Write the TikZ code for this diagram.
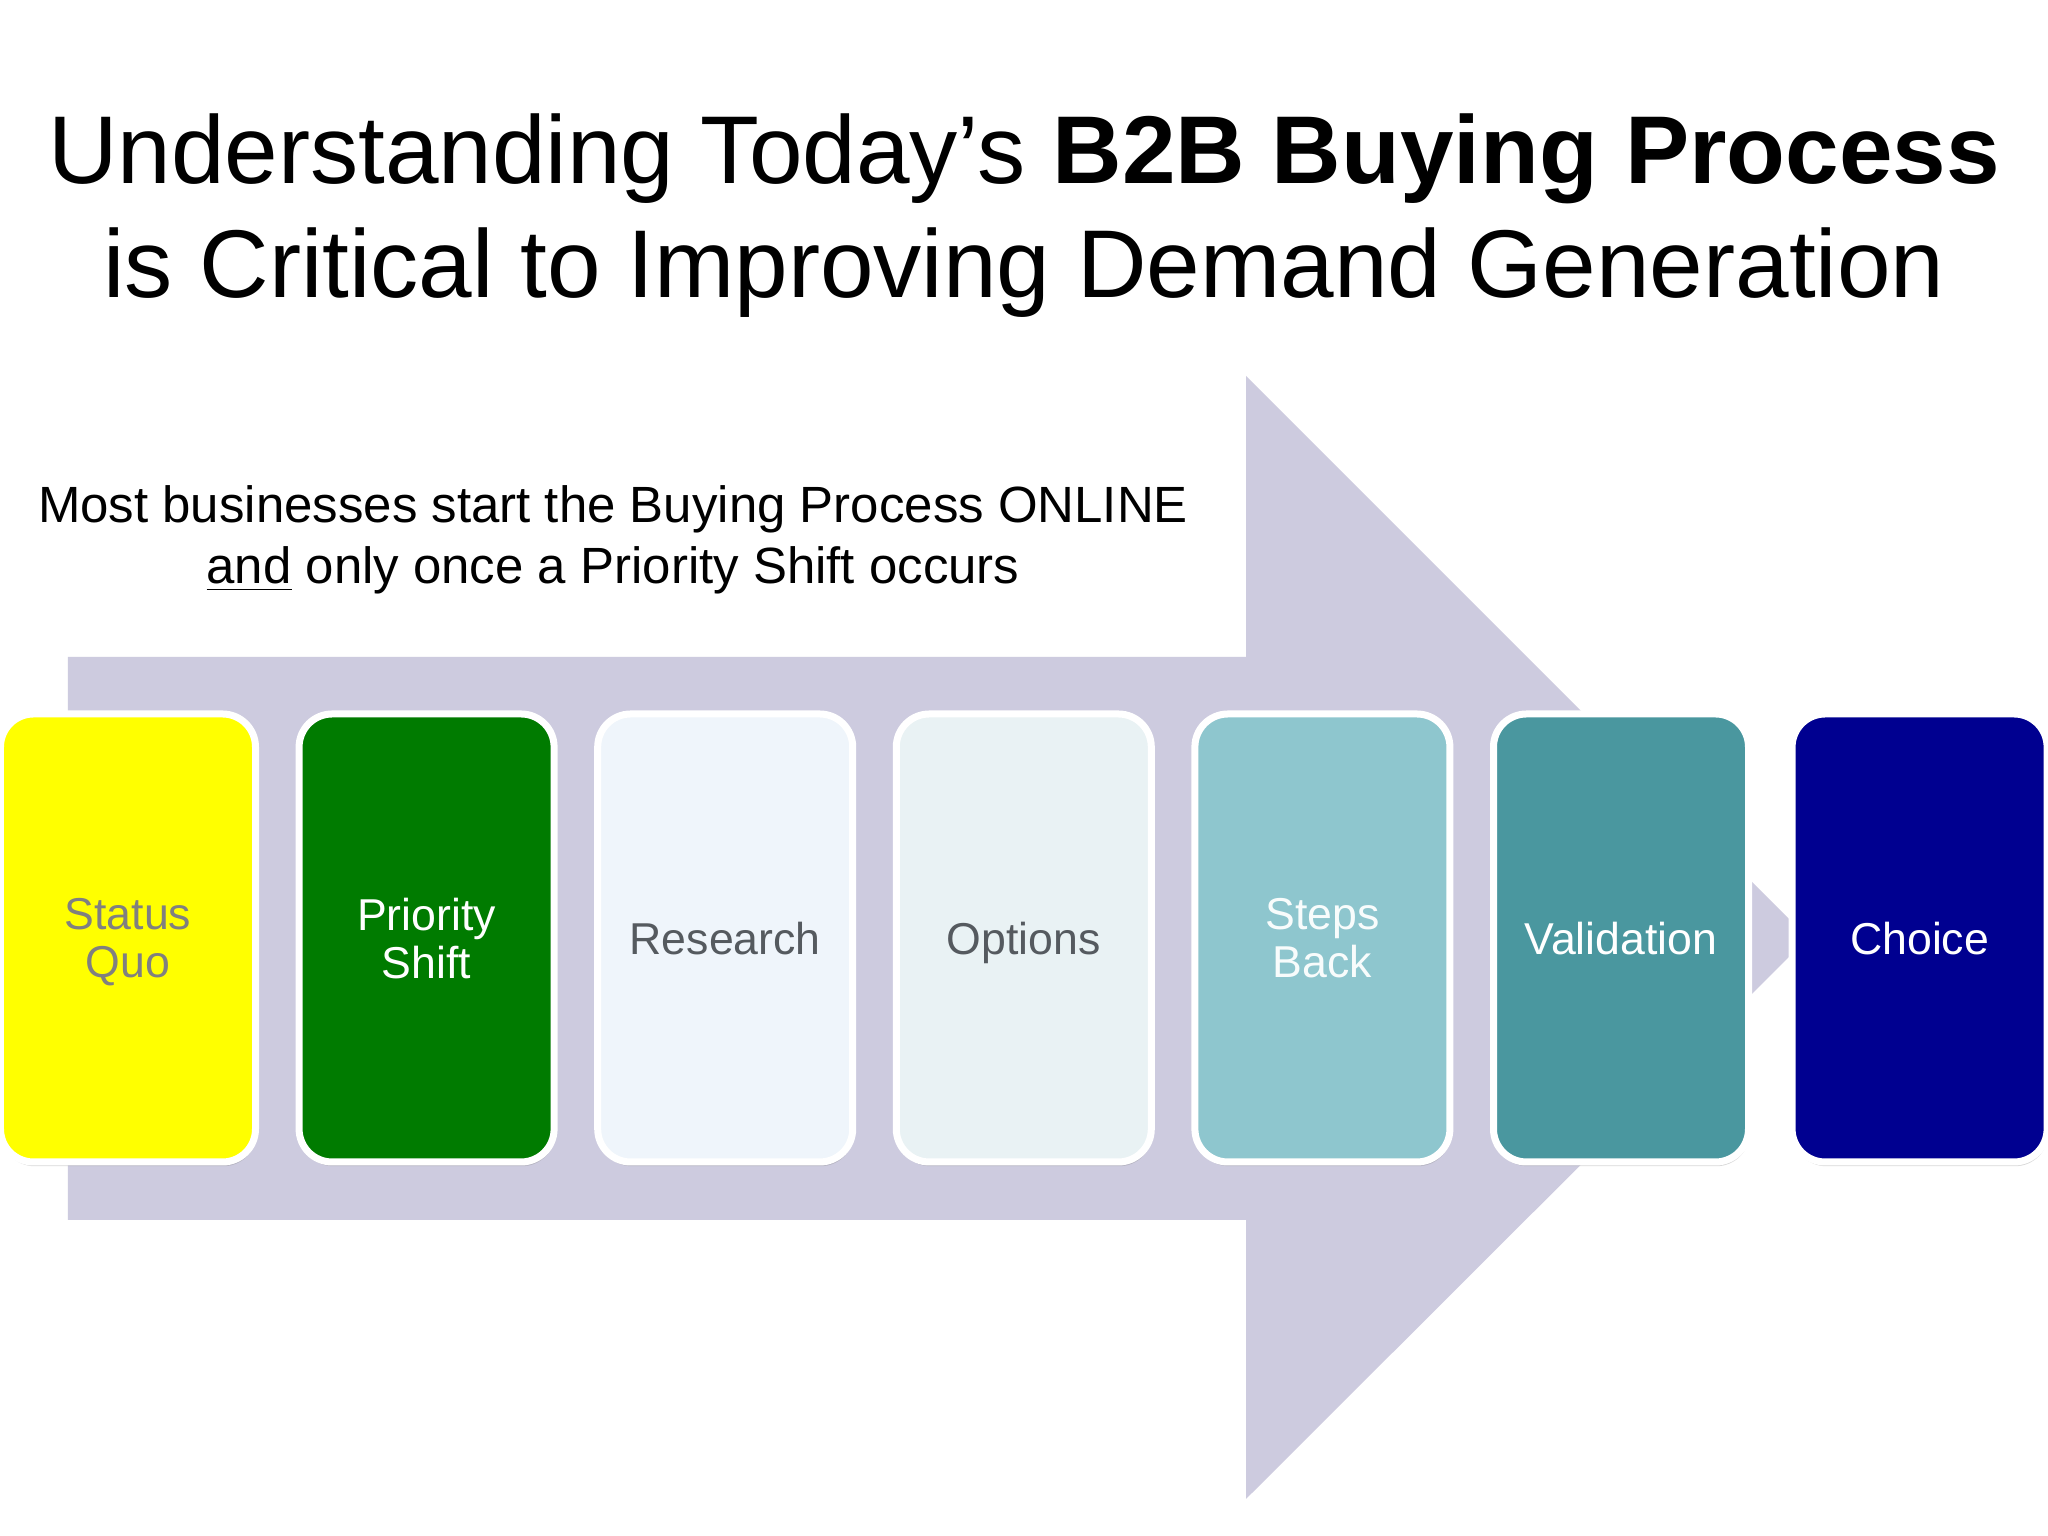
\documentclass[tikz,border=0pt]{standalone}
\usepackage{fontspec}
\setmainfont{Liberation Sans}
\usetikzlibrary{positioning,shadows}

\definecolor{arrowfill}{RGB}{205,203,223}
\definecolor{quofill}{RGB}{255,255,0}
\definecolor{shiftfill}{RGB}{0,123,0}
\definecolor{researchfill}{RGB}{239,245,251}
\definecolor{optionsfill}{RGB}{233,242,244}
\definecolor{stepsfill}{RGB}{142,198,206}
\definecolor{validfill}{RGB}{74,151,159}
\definecolor{choicefill}{RGB}{0,0,144}
\definecolor{midgray}{RGB}{128,128,128}
\definecolor{darkgray}{RGB}{85,90,95}

\begin{document}
\begin{tikzpicture}[
        stage/.style={rounded corners=0.33cm, draw=white, line width=0.07cm,
            minimum width=2.55cm, minimum height=4.48cm, align=center, text depth=0pt,
            font=\fontsize{12.7}{13.7}\selectfont,
            drop shadow={shadow xshift=0.3pt, shadow yshift=-1.2pt, opacity=0.3}},
        node distance=0.366cm]
    \useasboundingbox[fill=white] (0,0) rectangle (20.48,15.36);

    % title and note
    \node[font=\fontsize{27.4}{32.5}\selectfont, align=center, anchor=base] (title) at (10.24,12.38)
        {Understanding Today’s \textbf{B2B Buying Process}\\is Critical to Improving Demand Generation};
    \node[font=\fontsize{14.5}{17.6}\selectfont, align=center, anchor=base] (note) at (6.13,9.52)
        {Most businesses start the Buying Process ONLINE\\\underline{and} only once a Priority Shift occurs};

    % big arrow behind the stages
    \fill[arrowfill] (0.68,8.79) -- (12.46,8.79) -- (12.46,11.60) -- (18.08,5.98)
        -- (12.46,0.37) -- (12.46,3.16) -- (0.68,3.16) -- cycle;

    % stages
    \node[stage, fill=quofill, text=midgray] (quo) at (1.28,5.98) {Status\\Quo};
    \node[stage, fill=shiftfill, text=white, right=of quo] (shift) {Priority\\Shift};
    \node[stage, fill=researchfill, text=darkgray, right=of shift] (research) {Research};
    \node[stage, fill=optionsfill, text=darkgray, right=of research] (options) {Options};
    \node[stage, fill=stepsfill, text=white!94!stepsfill, right=of options] (steps) {Steps\\Back};
    \node[stage, fill=validfill, text=white, right=of steps] (valid) {Validation};
    \node[stage, fill=choicefill, text=white, right=of valid] (choice) {Choice};
\end{tikzpicture}
\end{document}
